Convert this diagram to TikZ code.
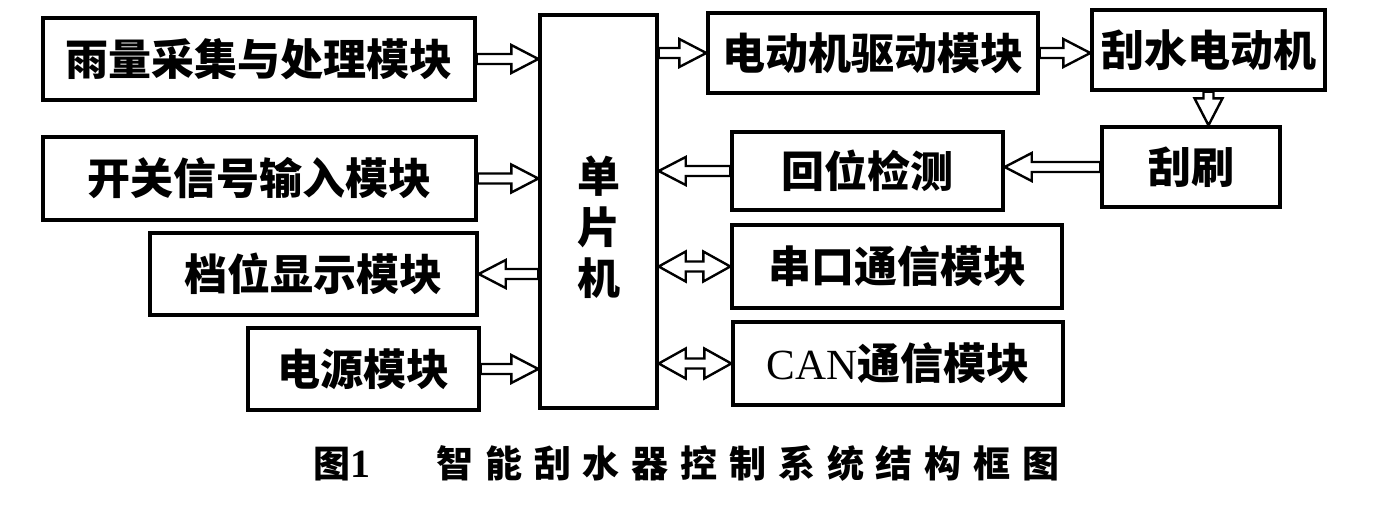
\documentclass[tikz,border=0pt]{standalone}
\usepackage{fontspec}
\setmainfont{Liberation Serif}
\newfontfamily\cjk{Noto Sans CJK SC}
\newfontfamily\cjkcap{Noto Sans CJK SC}[LetterSpace=32]
\usepackage{tikz}
\usetikzlibrary{calc}
\tikzstyle{module}=[rectangle, draw=black, line width=1.7pt, text centered, anchor=center, inner sep=0pt, font=\cjk\bfseries\fontsize{21.5pt}{25.5pt}\selectfont]
\tikzstyle{hollow}=[draw, line width=1.2pt, line join=miter, to path={
  ($(\tikztostart)!2.5pt!90:(\tikztotarget)$)
  -- ($($(\tikztotarget)!13.5pt!(\tikztostart)$)!2.5pt!90:(\tikztotarget)$)
  -- ($($(\tikztotarget)!13.5pt!(\tikztostart)$)!7pt!90:(\tikztotarget)$)
  -- (\tikztotarget)
  -- ($($(\tikztotarget)!13.5pt!(\tikztostart)$)!7pt!-90:(\tikztotarget)$)
  -- ($($(\tikztotarget)!13.5pt!(\tikztostart)$)!2.5pt!-90:(\tikztotarget)$)
  -- ($(\tikztostart)!2.5pt!-90:(\tikztotarget)$) -- cycle}]
\tikzstyle{hollowboth}=[draw, line width=1.2pt, line join=miter, to path={
  (\tikztostart)
  -- ($($(\tikztostart)!13.5pt!(\tikztotarget)$)!7.5pt!-90:(\tikztotarget)$)
  -- ($($(\tikztostart)!13.5pt!(\tikztotarget)$)!2.5pt!-90:(\tikztotarget)$)
  -- ($($(\tikztotarget)!13.5pt!(\tikztostart)$)!2.5pt!-90:(\tikztotarget)$)
  -- ($($(\tikztotarget)!13.5pt!(\tikztostart)$)!7.5pt!-90:(\tikztotarget)$)
  -- (\tikztotarget)
  -- ($($(\tikztotarget)!13.5pt!(\tikztostart)$)!7.5pt!90:(\tikztotarget)$)
  -- ($($(\tikztotarget)!13.5pt!(\tikztostart)$)!2.5pt!90:(\tikztotarget)$)
  -- ($($(\tikztostart)!13.5pt!(\tikztotarget)$)!2.5pt!90:(\tikztotarget)$)
  -- ($($(\tikztostart)!13.5pt!(\tikztotarget)$)!7.5pt!90:(\tikztotarget)$) -- cycle}]

\begin{document}
\begin{tikzpicture}[x=0.5pt, y=-0.5pt]
    \useasboundingbox (0,0) rectangle (1377,505);

    % left column
    \node[module, minimum width=216pt, minimum height=41pt] (rain) at (259,59) {雨量采集与处理模块};
    \node[module, minimum width=216.5pt, minimum height=41.5pt] (switch) at (259.5,178.5) {开关信号输入模块};
    \node[module, minimum width=163.5pt, minimum height=41pt] (gear) at (313.5,274) {档位显示模块};
    \node[module, minimum width=115.5pt, minimum height=41pt] (power) at (363.5,369) {电源模块};

    % controller
    \node[module, minimum width=58.5pt, minimum height=196.5pt] (mcu) at (598.5,211.5) {};
    \node[font=\cjk\bfseries\fontsize{21.5pt}{25.5pt}\selectfont, align=center, inner sep=0pt] (mcutext) at (598.5,227) {单\\片\\机};

    % right side
    \node[module, minimum width=165pt, minimum height=40pt] (driver) at (873,53) {电动机驱动模块};
    \node[module, minimum width=116.5pt, minimum height=40pt] (motor) at (1208.5,50) {刮水电动机};
    \node[module, minimum width=135.5pt, minimum height=39pt] (reset) at (867.5,171) {回位检测};
    \node[module, minimum width=89pt, minimum height=40pt] (wiper) at (1191,167) {刮刷};
    \node[module, minimum width=165pt, minimum height=41.5pt] (serial) at (897,266.5) {串口通信模块};
    \node[module, minimum width=165pt, minimum height=41.5pt] (can) at (898,363.5) {{\rmfamily\mdseries CAN}通信模块};

    \node[anchor=west, inner sep=0pt] (caption) at (313,463) {{\cjkcap\fontsize{18.5pt}{20pt}\selectfont\bfseries 图}{\bfseries\fontsize{20pt}{20pt}\selectfont 1}\hspace{33pt}{\cjkcap\fontsize{18.5pt}{20pt}\selectfont\bfseries 智能刮水器控制系统结构框图}};

    \draw[hollow] (rain.east) to (rain.east -| mcu.west);
    \draw[hollow] (switch.east) to (switch.east -| mcu.west);
    \draw[hollow] (mcu.west |- gear.east) to (gear.east);
    \draw[hollow] (power.east) to (power.east -| mcu.west);
    \draw[hollow] (mcu.east |- driver.west) to (driver.west);
    \draw[hollow] (driver.east) to (driver.east -| motor.west);
    \draw[hollow] (motor.south) to (motor.south |- wiper.north);
    \draw[hollow] (wiper.west) to (wiper.west -| reset.east);
    \draw[hollow] (reset.west) to (reset.west -| mcu.east);
    \draw[hollowboth] (mcu.east |- serial.west) to (serial.west);
    \draw[hollowboth] (mcu.east |- can.west) to (can.west);
\end{tikzpicture}
\end{document}
